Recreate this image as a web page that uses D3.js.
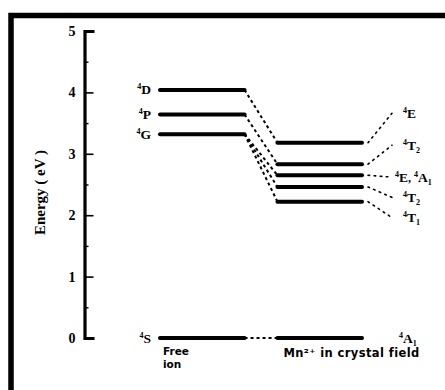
<!DOCTYPE html>
<html>
<head>
<meta charset="utf-8">
<script src="https://cdn.jsdelivr.net/npm/d3@7"></script>
<style>
  html, body { margin: 0; padding: 0; background: #fff; }
  svg { display: block; }
  .serif { font-family: "Liberation Serif", "DejaVu Serif", serif; font-weight: bold; }
  .sans { font-family: "DejaVu Sans", "Open Sans", sans-serif; font-weight: bold; }
</style>
</head>
<body>
<svg id="chart" width="445" height="390"></svg>
<script>
// Energy levels of Mn2+ (eV): free-ion terms and their crystal-field components
const freeTerms   = ["S", "G", "P", "D"];
const freeEnergy  = [0, 3.32, 3.64, 4.04];

const fieldEnergy = [0, 2.22, 2.46, 2.65, 2.83, 3.18];
// which free-ion term each crystal-field level comes from
const fieldParent = ["S", "G", "G", "G", "P", "D"];
// crystal-field level labels: [term, subscript] pairs
const fieldLabels = [
  [["A", "1"]],
  [["T", "1"]],
  [["T", "2"]],
  [["E", ""], ["A", "1"]],
  [["T", "2"]],
  [["E", ""]]
];
// vertical placement of each right-hand label, in eV
const fieldLabelEnergy = [0, 1.96, 2.29, 2.62, 3.14, 3.66];

const yTicks      = [0, 1, 2, 3, 4, 5];
const yMinorTicks = [0.5, 1.5, 2.5, 3.5, 4.5];
const columns     = ["Free ion", "Mn²⁺ in crystal field"];

const svg = d3.select("#chart");

// outer frame
svg.append("rect")
  .attr("x", 11).attr("y", 15.5)
  .attr("width", 480).attr("height", 420)
  .attr("fill", "none").attr("stroke", "#000").attr("stroke-width", 5.5);

const y = d3.scaleLinear().domain([0, 5]).range([338, 31]);
const x = d3.scaleBand().domain(columns).range([160, 362]).paddingInner(0.28);

// energy axis
const axisX = 84.5;
const axis = svg.append("g").attr("transform", `translate(${axisX},0)`)
  .call(d3.axisLeft(y).tickValues(yTicks).tickFormat(d3.format("d"))
    .tickSizeInner(-9).tickSizeOuter(-10).tickPadding(9));
axis.select(".domain").attr("stroke-width", 3.2);
axis.selectAll(".tick line").attr("stroke-width", 1.6);
axis.selectAll(".tick text")
  .attr("class", "serif").attr("font-size", 14).attr("fill", "#000");

const minor = svg.append("g").attr("transform", `translate(${axisX},0)`)
  .call(d3.axisLeft(y).tickValues(yMinorTicks).tickFormat("").tickSizeInner(-4).tickSizeOuter(0));
minor.select(".domain").remove();
minor.selectAll(".tick line").attr("stroke-width", 1.4);

svg.append("text")
  .attr("class", "serif").attr("font-size", 15)
  .attr("transform", `translate(45,${y(2.37)}) rotate(-90)`)
  .attr("text-anchor", "middle")
  .text("Energy ( eV )");

const x0 = x(columns[0]), x1 = x(columns[0]) + x.bandwidth();
const c0 = x(columns[1]), c1 = x(columns[1]) + x.bandwidth();
const freeY = t => y(freeEnergy[freeTerms.indexOf(t)]);

// free-ion levels
svg.append("g").selectAll("line").data(freeEnergy).join("line")
  .attr("x1", x0).attr("x2", x1)
  .attr("y1", d => y(d)).attr("y2", d => y(d))
  .attr("stroke", "#000").attr("stroke-width", 4).attr("stroke-linecap", "round");

// crystal-field levels
svg.append("g").selectAll("line").data(fieldEnergy).join("line")
  .attr("x1", c0).attr("x2", c1)
  .attr("y1", d => y(d)).attr("y2", d => y(d))
  .attr("stroke", "#000").attr("stroke-width", 4).attr("stroke-linecap", "round");

// dashed correlation lines between free-ion terms and split levels
svg.append("g").selectAll("line").data(fieldEnergy).join("line")
  .attr("x1", x1).attr("x2", c0)
  .attr("y1", (d, i) => freeY(fieldParent[i]))
  .attr("y2", d => y(d))
  .attr("stroke", "#000").attr("stroke-width", 2)
  .attr("stroke-dasharray", "3,3");

// term symbol: raised spin multiplicity, letter, lowered subscript
function termLabel(sel, parts) {
  parts.forEach((p, k) => {
    if (k > 0) sel.append("tspan").attr("font-size", 12).text(", ");
    sel.append("tspan").attr("font-size", 8).attr("dy", -5).text("4");
    sel.append("tspan").attr("font-size", 13.5).attr("dy", 5).text(p[0]);
    if (p[1]) {
      sel.append("tspan").attr("font-size", 8).attr("dy", 3).text(p[1]);
      sel.append("tspan").attr("font-size", 8).attr("dy", -3).text("");
    }
  });
}

svg.append("g").selectAll("text").data(freeTerms).join("text")
  .attr("class", "serif")
  .attr("x", x0 - 9).attr("y", (d, i) => y(freeEnergy[i]) + 4.5)
  .attr("text-anchor", "end")
  .each(function (d) { termLabel(d3.select(this), [[d, ""]]); });

// dotted leaders to crystal-field labels
const labelX = 401;
svg.append("g").selectAll("line").data(fieldEnergy.slice(1)).join("line")
  .attr("x1", c1 + 6).attr("y1", d => y(d))
  .attr("x2", labelX - 9)
  .attr("y2", (d, i) => y(fieldLabelEnergy[i + 1]))
  .attr("stroke", "#000").attr("stroke-width", 1.6)
  .attr("stroke-dasharray", "1.6,4.5").attr("stroke-linecap", "round");

svg.append("g").selectAll("text").data(fieldLabels).join("text")
  .attr("class", "serif")
  .attr("x", (d, i) => i === 0 ? labelX - 2 : (i === 3 ? labelX - 6 : labelX + 2))
  .attr("y", (d, i) => y(fieldLabelEnergy[i]) + 4.5)
  .each(function (d) { termLabel(d3.select(this), d); });

// column captions
svg.append("text").attr("class", "sans").attr("font-size", 10.5)
  .attr("x", x0 + 3).attr("y", 355).text("Free");
svg.append("text").attr("class", "sans").attr("font-size", 10.5)
  .attr("x", x0 + 3).attr("y", 368).text("ion");
svg.append("text").attr("class", "sans").attr("font-size", 11.5)
  .attr("letter-spacing", 0.4)
  .attr("x", c0 + 6).attr("y", 357).text(columns[1]);
</script>
</body>
</html>
